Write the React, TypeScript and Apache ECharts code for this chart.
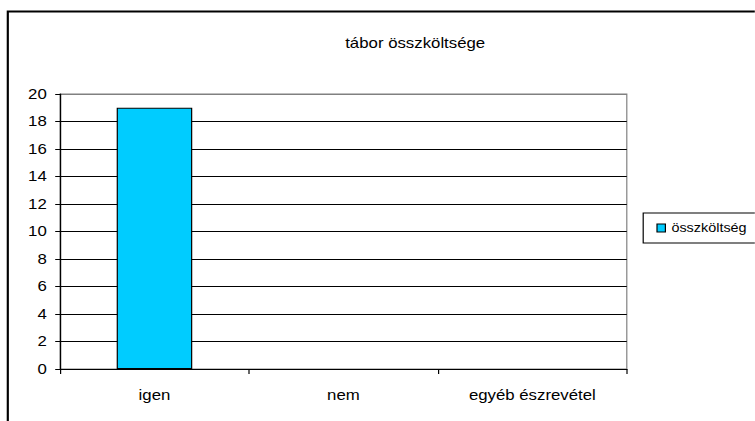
import React, { useEffect, useRef } from "react";
import * as echarts from "echarts";

const categories = ["igen", "nem", "egyéb észrevétel"];
const values = [19, 0, 0];
const seriesName = "összköltség";
const titleText = "tábor összköltsége";

const SX = 1.2; // horizontal stretch of the reference picture
const W = 755 / SX;

export default function App() {
  const ref = useRef<HTMLDivElement>(null);
  useEffect(() => {
    const chart = echarts.init(ref.current!, null, { renderer: "svg" });
    const font = "'Liberation Sans', Arial, sans-serif";
    const splitColors = Array.from({ length: 11 }, (_, i) => (i === 10 ? "#808080" : "#000000"));
    chart.setOption({
      animation: false,
      textStyle: { fontFamily: font },
      title: {
        text: titleText,
        left: 341,
        top: 31,
        textAlign: "center",
        textStyle: { fontSize: 14, fontWeight: "normal", color: "#000", fontFamily: font },
      },
      graphic: [
        {
          type: "rect",
          shape: { x: 6.5, y: 11.5, width: 800, height: 500 },
          style: { fill: "none", stroke: "#000", lineWidth: 1.8 },
          silent: true,
        },
      ],
      legend: {
        left: 536,
        top: 213,
        orient: "vertical",
        backgroundColor: "#fff",
        borderColor: "#000",
        borderWidth: 1,
        borderRadius: 0,
        padding: [9, 30, 9, 11],
        icon: "rect",
        itemWidth: 7,
        itemHeight: 8,
        itemGap: 4,
        itemStyle: { borderColor: "#000", borderWidth: 1 },
        textStyle: { fontSize: 12, color: "#000", fontFamily: font },
        data: [seriesName],
      },
      grid: {
        left: 50,
        right: W - 522.5,
        top: 94,
        bottom: 52,
        show: true,
        borderColor: "#808080",
        borderWidth: 1,
        containLabel: false,
      },
      xAxis: {
        type: "category",
        data: categories,
        axisLine: { show: true, lineStyle: { color: "#000", width: 1 } },
        axisTick: { show: true, length: 5, lineStyle: { color: "#000" } },
        axisLabel: { color: "#000", fontSize: 14, margin: 19, fontFamily: font },
        splitLine: { show: false },
      },
      yAxis: {
        type: "value",
        min: 0,
        max: 20,
        interval: 2,
        axisLine: { show: true, lineStyle: { color: "#000", width: 1 } },
        axisTick: { show: true, length: 4, lineStyle: { color: "#000" } },
        axisLabel: { color: "#000", fontSize: 14, margin: 11, fontFamily: font },
        splitLine: { show: true, lineStyle: { color: splitColors, width: 1 } },
      },
      series: [
        {
          name: seriesName,
          type: "bar",
          data: values.map((v) =>
            v === 0 ? { value: v, itemStyle: { borderWidth: 0, opacity: 0 } } : v
          ),
          barCategoryGap: "60%",
          itemStyle: { color: "#00CCFF", borderColor: "#000", borderWidth: 1 },
        },
      ],
    });
    return () => chart.dispose();
  }, []);
  return (
    <div
      ref={ref}
      style={{
        position: "absolute",
        left: 0,
        top: 0,
        width: W,
        height: 421,
        background: "#fff",
        transform: `scaleX(${SX})`,
        transformOrigin: "0 0",
      }}
    />
  );
}
